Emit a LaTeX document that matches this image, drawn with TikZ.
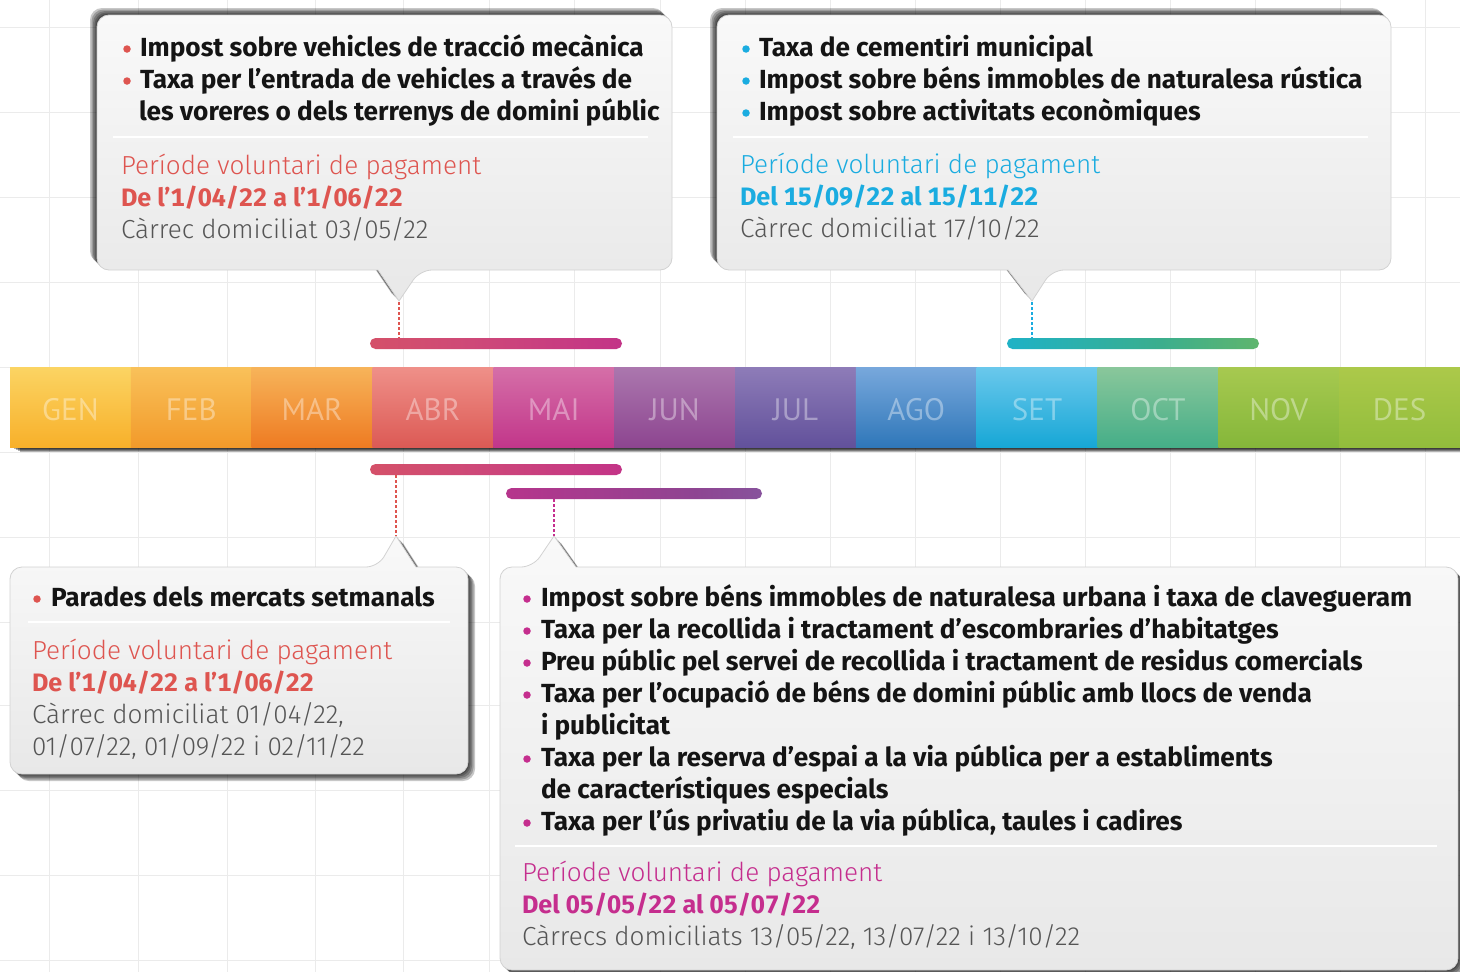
\documentclass[tikz,border=0pt]{standalone}
\usepackage{fontspec}
\setmainfont{Fira Sans}[Numbers=Monospaced]
\newfontfamily\lightfont{Fira Sans Light}
\newfontfamily\monthfont{PT Sans}
\definecolor{gridc}{HTML}{EBEBEB}
\definecolor{boxtop}{HTML}{F9F9F9}
\definecolor{boxbot}{HTML}{E8E8E8}
\definecolor{boxline}{HTML}{D2D2D2}
\definecolor{cred}{HTML}{DE5550}
\definecolor{ccyan}{HTML}{1AACE0}
\definecolor{cmag}{HTML}{C52E8E}
\definecolor{cgray}{HTML}{555555}
\definecolor{cblack}{HTML}{141414}
\definecolor{gent}{HTML}{FBD463}\definecolor{genb}{HTML}{F8B02A}
\definecolor{febt}{HTML}{F9C15A}\definecolor{febb}{HTML}{F29A2A}
\definecolor{mart}{HTML}{F7B45A}\definecolor{marb}{HTML}{EE7B22}
\definecolor{abrt}{HTML}{EF9089}\definecolor{abrb}{HTML}{DC5A55}
\definecolor{mait}{HTML}{D56FA8}\definecolor{maib}{HTML}{C2368A}
\definecolor{junt}{HTML}{AB77AE}\definecolor{junb}{HTML}{8D4590}
\definecolor{jult}{HTML}{8E7CB8}\definecolor{julb}{HTML}{62519B}
\definecolor{agot}{HTML}{78A8DC}\definecolor{agob}{HTML}{2F77B9}
\definecolor{sett}{HTML}{6AC8EC}\definecolor{setb}{HTML}{17A7D6}
\definecolor{octt}{HTML}{8AC79B}\definecolor{octb}{HTML}{45AE88}
\definecolor{novt}{HTML}{A7C950}\definecolor{novb}{HTML}{85B73A}
\definecolor{dest}{HTML}{ACC94A}\definecolor{desb}{HTML}{92BD3C}
\definecolor{bA0}{HTML}{DC5A56}\definecolor{bA1}{HTML}{CE4978}\definecolor{bA2}{HTML}{C1308A}\definecolor{bA3}{HTML}{C9A3CA}
\definecolor{bB0}{HTML}{0FB4E6}\definecolor{bB1}{HTML}{3AAE8E}\definecolor{bB2}{HTML}{8EBE45}
\definecolor{bC0}{HTML}{C1308A}\definecolor{bC1}{HTML}{8E4592}\definecolor{bC2}{HTML}{7B6CAF}
\pgfdeclarehorizontalshading{barA}{100bp}{color(0bp)=(bA0); color(45bp)=(bA1); color(80bp)=(bA2); color(100bp)=(bA3)}
\pgfdeclarehorizontalshading{barB}{100bp}{color(0bp)=(bB0); color(8bp)=(bB0); color(55bp)=(bB1); color(100bp)=(bB2)}
\pgfdeclarehorizontalshading{barC}{100bp}{color(0bp)=(bC0); color(15bp)=(bC0); color(62bp)=(bC1); color(100bp)=(bC2)}
\newcommand\callbox[2]{%
  \foreach \s in {7,5.5,4,2.5,1.2}{\fill[black,fill opacity=0.22,rounded corners=12pt,shift={(#1*\s,#1*\s)}] #2;}
  \shade[top color=boxtop,bottom color=boxbot,draw=boxline,line width=0.8pt,rounded corners=12pt] #2;
}
\begin{document}
\begin{tikzpicture}[x=1pt,y=-1pt,
  txt/.style={anchor=base west,inner sep=0pt,outer sep=0pt},
  bld/.style={txt,font=\fontsize{26.2}{30}\selectfont\bfseries,text=cblack},
  lgt/.style={txt,font=\lightfont\fontsize{26.1}{30}\selectfont},
  bdate/.style={txt,font=\fontsize{25.2}{30}\selectfont\bfseries},
  bul/.style={circle,inner sep=0pt,minimum size=7.5pt},
  monthlbl/.style={anchor=base,inner sep=0pt,font=\monthfont\fontsize{31}{31}\selectfont,text=white,text opacity=0.38},
  sep/.style={white,line width=2pt},
  dotline/.style={line width=2.5pt,dash pattern=on 2.5pt off 2.5pt},
  tbar/.style={rounded corners=5.5pt}]
\useasboundingbox (0,0) rectangle (1460,972);
\fill[white] (0,0) rectangle (1460,972);
% grid
\foreach \gx in {49,138,227,315,403,489,574,660,745,830,915,1000,1085,1170,1255,1340,1425}
  \draw[gridc,line width=1pt] (\gx,0) -- (\gx,972);
\foreach \gy in {27,112,197,282,367,452,537,622,705,790,875,960}
  \draw[gridc,line width=1pt] (0,\gy) -- (1460,\gy);
% month bar shadow
\foreach \s in {5,4,3,2}{\fill[black,fill opacity=0.3] (10+2*\s,367+\s) rectangle (1460,447+\s);}
% months
\foreach \i/\n/\t/\b in {0/GEN/gent/genb,1/FEB/febt/febb,2/MAR/mart/marb,3/ABR/abrt/abrb,4/MAI/mait/maib,5/JUN/junt/junb,6/JUL/jult/julb,7/AGO/agot/agob,8/SET/sett/setb,9/OCT/octt/octb,10/NOV/novt/novb,11/DES/dest/desb}{
  \shade[top color=\t,bottom color=\b] ({10+\i*120.833},367) rectangle ({10+(\i+1)*120.833+0.4},447);
  \node[monthlbl] (m\i) at ({10+(\i+0.5)*120.833},420) {\n};
}
% timeline bars
\shade[shading=barA,tbar] (370,338) rectangle (622,349);
\shade[shading=barB,tbar] (1007,338) rectangle (1259,349);
\shade[shading=barA,tbar] (370,464) rectangle (622,475);
\shade[shading=barC,tbar] (506,488) rectangle (762,499);
\coordinate (barAtop) at (399,338);
\coordinate (barBtop) at (1032,338);
\coordinate (barAbot) at (396,475);
\coordinate (barCbot) at (554,499);
% callout boxes
\callbox{-1}{(400,15) -- (672,15) -- (672,270) -- (420,270) [sharp corners] -- (399,301) -- (378,270) [rounded corners=12pt] -- (97,270) -- (97,15) -- cycle}
\callbox{-1}{(1000,15) -- (1391,15) -- (1391,270) -- (1052,270) [sharp corners] -- (1032,301) -- (1008,270) [rounded corners=12pt] -- (717,270) -- (717,15) -- cycle}
\callbox{1}{(200,567) -- (378,567) [sharp corners] -- (396,536) -- (416,567) [rounded corners=12pt] -- (468,567) -- (468,774) -- (10,774) -- (10,567) -- cycle}
\callbox{1}{(900,567) -- (1458,567) -- (1458,970) -- (500,970) -- (500,567) -- (533,567) [sharp corners] -- (554,536) -- (576,567) [rounded corners=12pt] -- cycle}
\coordinate (tipA) at (399,302);
\coordinate (tipB) at (1032,302);
\coordinate (tipC) at (396,536);
\coordinate (tipD) at (554,536);
\draw[dotline,cred] (tipA) -- (barAtop);
\draw[dotline,ccyan] (tipB) -- (barBtop);
\draw[dotline,cred] (barAbot) -- (tipC);
\draw[dotline,cmag] (barCbot) -- (tipD);
% box 1
\node[bul,fill=cred] (b1a) at (127,49) {};
\node[bul,fill=cred] (b1b) at (127,81) {};
\node[bld] (t1a) at (140,56) {Impost sobre vehicles de tracció mecànica};
\node[bld] (t1b) at (140,88) {Taxa per l’entrada de vehicles a través de};
\node[bld] (t1c) at (139,120) {les voreres o dels terrenys de domini públic};
\coordinate (s1a) at (113,137); \coordinate (s1b) at (648,137);
\draw[sep] (s1a) -- (s1b);
\node[lgt,text=cred] (p1) at (121,174) {Període voluntari de pagament};
\node[bdate,text=cred] (d1) at (121,206) {De l’1/04/22 a l’1/06/22};
\node[lgt,text=cgray] (c1) at (121,238) {Càrrec domiciliat 03/05/22};
% box 2
\node[bul,fill=ccyan] (b2a) at (746,49) {};
\node[bul,fill=ccyan] (b2b) at (746,81) {};
\node[bul,fill=ccyan] (b2c) at (746,113) {};
\node[bld] (t2a) at (759,56) {Taxa de cementiri municipal};
\node[bld] (t2b) at (759,88) {Impost sobre béns immobles de naturalesa rústica};
\node[bld] (t2c) at (759,120) {Impost sobre activitats econòmiques};
\coordinate (s2a) at (733,137); \coordinate (s2b) at (1368,137);
\draw[sep] (s2a) -- (s2b);
\node[lgt,text=ccyan] (p2) at (740,173) {Període voluntari de pagament};
\node[bdate,text=ccyan] (d2) at (740,205) {Del 15/09/22 al 15/11/22};
\node[lgt,text=cgray] (c2) at (740,237) {Càrrec domiciliat 17/10/22};
% box 3
\node[bul,fill=cred] (b3a) at (37,599) {};
\node[bld] (t3a) at (51,606) {Parades dels mercats setmanals};
\coordinate (s3a) at (28,622); \coordinate (s3b) at (450,622);
\draw[sep] (s3a) -- (s3b);
\node[lgt,text=cred] (p3) at (32,659) {Període voluntari de pagament};
\node[bdate,text=cred] (d3) at (32,691) {De l’1/04/22 a l’1/06/22};
\node[lgt,text=cgray] (c3a) at (32,723) {Càrrec domiciliat 01/04/22,};
\node[lgt,text=cgray] (c3b) at (32,755) {01/07/22, 01/09/22 i 02/11/22};
% box 4
\foreach \k/\yy in {a/599,b/631,c/663,d/695,e/759,f/823}
  \node[bul,fill=cmag] (b4\k) at (527,\yy) {};
\node[bld] (t4a) at (541,606) {Impost sobre béns immobles de naturalesa urbana i taxa de clavegueram};
\node[bld] (t4b) at (541,638) {Taxa per la recollida i tractament d’escombraries d’habitatges};
\node[bld] (t4c) at (541,670) {Preu públic pel servei de recollida i tractament de residus comercials};
\node[bld] (t4d) at (541,702) {Taxa per l’ocupació de béns de domini públic amb llocs de venda};
\node[bld] (t4e) at (541,734) {i publicitat};
\node[bld] (t4f) at (541,766) {Taxa per la reserva d’espai a la via pública per a establiments};
\node[bld] (t4g) at (541,798) {de característiques especials};
\node[bld] (t4h) at (541,830) {Taxa per l’ús privatiu de la via pública, taules i cadires};
\coordinate (s4a) at (515,846); \coordinate (s4b) at (1437,846);
\draw[sep] (s4a) -- (s4b);
\node[lgt,text=cmag] (p4) at (522,881) {Període voluntari de pagament};
\node[bdate,text=cmag] (d4) at (522,913) {Del 05/05/22 al 05/07/22};
\node[lgt,text=cgray] (c4) at (522,945) {Càrrecs domiciliats 13/05/22, 13/07/22 i 13/10/22};
\end{tikzpicture}
\end{document}
